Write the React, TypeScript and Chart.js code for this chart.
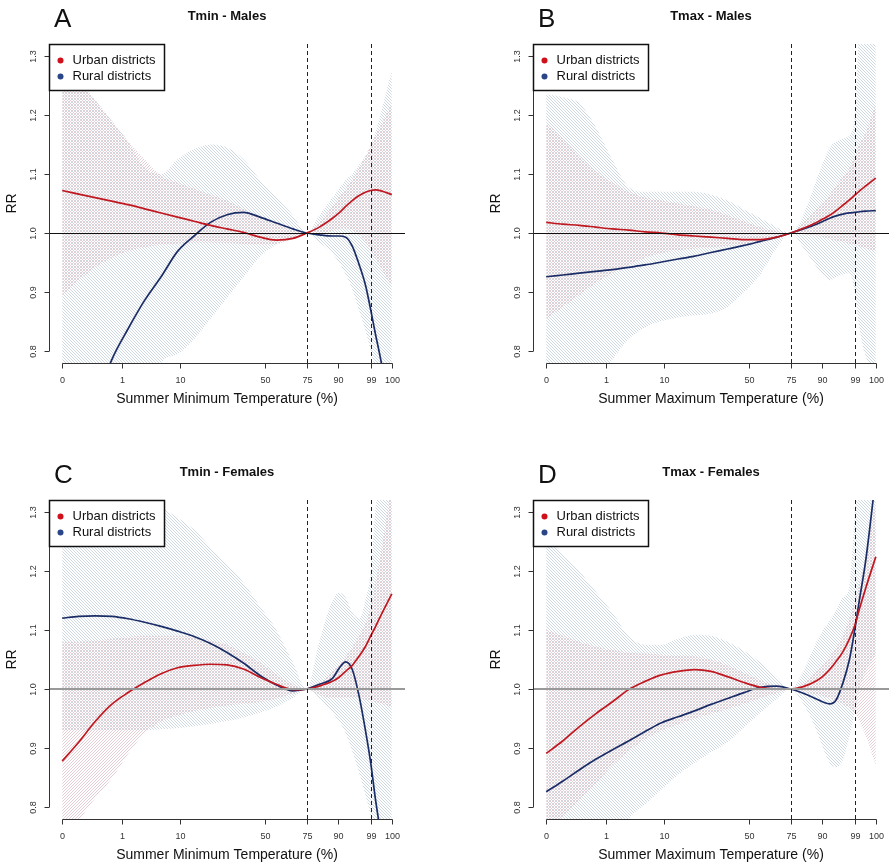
import React, { useEffect, useRef } from "react";
import { Chart, registerables } from "chart.js";
Chart.register(...registerables);

// ---------- data ----------
// x positions on the (temperature) axis, scaled 0..100
const X_GRID = [0, 5, 10, 15, 20, 25, 30, 35, 40, 45, 50, 55, 60, 65, 70, 74.2, 78, 82, 84, 86, 88, 90, 92, 93.6, 95, 97, 100];
const TICK_POS = [0, 18.2, 35.6, 61.4, 74.2, 83.6, 93.6, 100];
const TICK_LABELS = ["0", "1", "10", "50", "75", "90", "99", "100"];
const Y_TICKS = [0.8, 0.9, 1.0, 1.1, 1.2, 1.3];
const Y_TICK_LABELS = ["0.8", "0.9", "1.0", "1.1", "1.2", "1.3"];
const REF_LINES = [74.2, 93.6];
const SERIES_NAMES = ["Urban districts", "Rural districts"];

// Panel A: Tmin - Males
const urbanA = [1.072, 1.066, 1.060, 1.054, 1.048, 1.041, 1.034, 1.027, 1.020, 1.013, 1.007, 1.001, 0.993, 0.988, 0.991, 1.000, 1.010, 1.025, 1.034, 1.045, 1.055, 1.063, 1.069, 1.072, 1.073, 1.071, 1.065];
const ruralA = [0.58, 0.64, 0.71, 0.785, 0.838, 0.886, 0.926, 0.969, 0.995, 1.018, 1.031, 1.035, 1.027, 1.017, 1.007, 1.000, 0.997, 0.995, 0.995, 0.993, 0.978, 0.948, 0.912, 0.870, 0.830, 0.775, 0.660];
const urbanLoA = [0.895, 0.92, 0.942, 0.958, 0.97, 0.976, 0.98, 0.982, 0.984, 0.984, 0.983, 0.981, 0.980, 0.982, 0.990, 1.000, 1.000, 1.004, 1.007, 1.008, 1.005, 0.998, 0.985, 0.972, 0.958, 0.938, 0.910];
const urbanHiA = [1.29, 1.26, 1.225, 1.19, 1.155, 1.125, 1.097, 1.085, 1.075, 1.065, 1.055, 1.042, 1.028, 1.015, 1.005, 1.000, 1.02, 1.045, 1.06, 1.075, 1.09, 1.11, 1.13, 1.15, 1.165, 1.185, 1.22];
const ruralLoA = [0.3, 0.35, 0.4, 0.47, 0.55, 0.68, 0.78, 0.795, 0.82, 0.855, 0.89, 0.925, 0.96, 0.98, 0.99, 1.0, 0.985, 0.965, 0.95, 0.93, 0.905, 0.87, 0.835, 0.8, 0.77, 0.72, 0.6];
const ruralHiA = [1.29, 1.26, 1.225, 1.19, 1.155, 1.11, 1.1, 1.125, 1.142, 1.15, 1.145, 1.125, 1.09, 1.06, 1.03, 1.0, 1.03, 1.06, 1.075, 1.09, 1.1, 1.115, 1.13, 1.146, 1.17, 1.21, 1.276];

// Panel B: Tmax - Males
const urbanB = [1.018, 1.015, 1.013, 1.010, 1.007, 1.005, 1.002, 1.000, 0.997, 0.995, 0.993, 0.991, 0.989, 0.989, 0.993, 1.000, 1.008, 1.018, 1.024, 1.030, 1.038, 1.047, 1.056, 1.064, 1.071, 1.080, 1.093];
const ruralB = [0.926, 0.929, 0.932, 0.935, 0.938, 0.942, 0.946, 0.951, 0.956, 0.961, 0.967, 0.973, 0.979, 0.986, 0.993, 1.000, 1.007, 1.015, 1.020, 1.025, 1.029, 1.032, 1.034, 1.035, 1.036, 1.037, 1.038];
const urbanLoB = [0.855, 0.875, 0.895, 0.915, 0.932, 0.946, 0.958, 0.966, 0.971, 0.974, 0.976, 0.978, 0.980, 0.984, 0.992, 1.000, 0.998, 0.995, 0.993, 0.990, 0.987, 0.985, 0.982, 0.980, 0.977, 0.974, 0.970];
const urbanHiB = [1.185, 1.16, 1.13, 1.105, 1.085, 1.07, 1.06, 1.055, 1.05, 1.045, 1.04, 1.03, 1.02, 1.01, 1.003, 1.0, 1.02, 1.04, 1.05, 1.065, 1.08, 1.095, 1.11, 1.13, 1.15, 1.17, 1.22];
const ruralLoB = [0.63, 0.67, 0.71, 0.75, 0.785, 0.82, 0.84, 0.851, 0.857, 0.861, 0.864, 0.875, 0.9, 0.93, 0.975, 1.0, 0.975, 0.943, 0.93, 0.92, 0.925, 0.93, 0.932, 0.9, 0.84, 0.79, 0.76];
const ruralHiB = [1.235, 1.23, 1.22, 1.18, 1.125, 1.078, 1.07, 1.07, 1.07, 1.07, 1.065, 1.055, 1.04, 1.025, 1.01, 1.0, 1.03, 1.09, 1.12, 1.145, 1.155, 1.16, 1.165, 1.2, 1.35, 1.45, 1.5];

// Panel C: Tmin - Females
const urbanC = [0.878, 0.91, 0.945, 0.974, 0.994, 1.011, 1.026, 1.036, 1.040, 1.042, 1.041, 1.034, 1.020, 1.008, 0.999, 1.000, 1.005, 1.013, 1.020, 1.030, 1.040, 1.055, 1.072, 1.090, 1.105, 1.128, 1.161];
const ruralC = [1.120, 1.123, 1.124, 1.123, 1.119, 1.113, 1.106, 1.098, 1.089, 1.077, 1.062, 1.044, 1.023, 1.007, 0.997, 1.000, 1.008, 1.018, 1.035, 1.046, 1.033, 0.990, 0.930, 0.875, 0.815, 0.740, 0.600];
const urbanLoC = [0.72, 0.775, 0.815, 0.848, 0.89, 0.925, 0.945, 0.955, 0.963, 0.968, 0.972, 0.975, 0.978, 0.984, 0.992, 1.0, 0.99, 0.985, 0.985, 0.985, 0.985, 0.985, 0.982, 0.98, 0.978, 0.975, 0.97];
const urbanHiC = [1.08, 1.08, 1.082, 1.085, 1.088, 1.09, 1.09, 1.09, 1.088, 1.082, 1.075, 1.062, 1.045, 1.025, 1.008, 1.0, 1.01, 1.03, 1.04, 1.055, 1.07, 1.09, 1.11, 1.14, 1.18, 1.24, 1.35];
const ruralLoC = [0.93, 0.93, 0.93, 0.93, 0.93, 0.93, 0.932, 0.934, 0.937, 0.941, 0.946, 0.952, 0.96, 0.97, 0.985, 1.0, 0.985, 0.96, 0.945, 0.925, 0.895, 0.86, 0.82, 0.78, 0.7, 0.6, 0.5];
const ruralHiC = [1.45, 1.43, 1.4, 1.37, 1.35, 1.33, 1.31, 1.29, 1.27, 1.24, 1.212, 1.18, 1.14, 1.1, 1.045, 1.0, 1.08, 1.15, 1.163, 1.155, 1.13, 1.12, 1.15, 1.2, 1.3, 1.4, 1.5];

// Panel D: Tmax - Females
const urbanD = [0.891, 0.912, 0.936, 0.958, 0.978, 0.999, 1.013, 1.024, 1.030, 1.033, 1.030, 1.021, 1.011, 1.003, 1.000, 1.000, 1.004, 1.014, 1.022, 1.033, 1.047, 1.063, 1.085, 1.107, 1.135, 1.172, 1.224];
const ruralD = [0.826, 0.844, 0.863, 0.881, 0.897, 0.912, 0.928, 0.943, 0.953, 0.963, 0.974, 0.984, 0.994, 1.003, 1.005, 1.000, 0.993, 0.983, 0.978, 0.975, 0.982, 1.010, 1.050, 1.100, 1.150, 1.220, 1.360];
const urbanLoD = [0.76, 0.785, 0.81, 0.84, 0.87, 0.895, 0.915, 0.93, 0.94, 0.95, 0.958, 0.966, 0.975, 0.985, 0.993, 1.0, 0.995, 0.99, 0.988, 0.985, 0.98, 0.975, 0.968, 0.96, 0.945, 0.92, 0.87];
const urbanHiD = [1.1, 1.09, 1.08, 1.072, 1.066, 1.062, 1.06, 1.058, 1.056, 1.055, 1.05, 1.04, 1.028, 1.015, 1.005, 1.0, 1.01, 1.03, 1.04, 1.055, 1.07, 1.09, 1.12, 1.15, 1.18, 1.23, 1.32];
const ruralLoD = [0.6, 0.63, 0.66, 0.69, 0.73, 0.78, 0.805, 0.83, 0.855, 0.875, 0.893, 0.91, 0.935, 0.96, 0.983, 1.0, 0.975, 0.93, 0.9, 0.875, 0.868, 0.88, 0.92, 0.96, 1.0, 1.03, 1.06];
const ruralHiD = [1.26, 1.23, 1.2, 1.165, 1.13, 1.09, 1.075, 1.075, 1.085, 1.092, 1.09, 1.08, 1.065, 1.045, 1.02, 1.0, 1.03, 1.08, 1.1, 1.115, 1.135, 1.155, 1.175, 1.3, 1.45, 1.6, 1.8];

// ---------- styles ----------
const FONT = "'Liberation Sans', Arial, sans-serif";
const URBAN_LINE = "#bf1820";
const RURAL_LINE = "#1b2d66";
const URBAN_DOT = "#d0101a";
const RURAL_DOT = "#2b4688";
const URBAN_HATCH = "#e4cdd3";
const RURAL_HATCH = "#cdd8e1";
const CW = 485;
const CH = 456;

type PanelCfg = {
  letter: string; title: string; xTitle: string;
  left: number; top: number; hColor: string; hWidth: number;
  urban: number[]; rural: number[];
  urbanLo: number[]; urbanHi: number[]; ruralLo: number[]; ruralHi: number[];
};

const PANELS: PanelCfg[] = [
  { letter: "A", title: "Tmin - Males", xTitle: "Summer Minimum Temperature (%)", left: 0, top: 0, hColor: "#111", hWidth: 1,
    urban: urbanA, rural: ruralA, urbanLo: urbanLoA, urbanHi: urbanHiA, ruralLo: ruralLoA, ruralHi: ruralHiA },
  { letter: "B", title: "Tmax - Males", xTitle: "Summer Maximum Temperature (%)", left: 484, top: 0, hColor: "#111", hWidth: 1,
    urban: urbanB, rural: ruralB, urbanLo: urbanLoB, urbanHi: urbanHiB, ruralLo: ruralLoB, ruralHi: ruralHiB },
  { letter: "C", title: "Tmin - Females", xTitle: "Summer Minimum Temperature (%)", left: 0, top: 456, hColor: "#999", hWidth: 2,
    urban: urbanC, rural: ruralC, urbanLo: urbanLoC, urbanHi: urbanHiC, ruralLo: ruralLoC, ruralHi: ruralHiC },
  { letter: "D", title: "Tmax - Females", xTitle: "Summer Maximum Temperature (%)", left: 484, top: 456, hColor: "#999", hWidth: 2,
    urban: urbanD, rural: ruralD, urbanLo: urbanLoD, urbanHi: urbanHiD, ruralLo: ruralLoD, ruralHi: ruralHiD },
];

function makeHatch(color: string, back: boolean): CanvasPattern | string {
  const s = 3;
  const c = document.createElement("canvas");
  c.width = s;
  c.height = s;
  const g = c.getContext("2d");
  if (!g) return color;
  g.fillStyle = color;
  for (let i = 0; i < s; i++) {
    const x = back ? i : s - 1 - i;
    g.fillRect(x, i, 1, 1);
  }
  return g.createPattern(c, "repeat") || color;
}

function Panel({ cfg }: { cfg: PanelCfg }) {
  const ref = useRef<HTMLCanvasElement>(null);
  useEffect(() => {
    const canvas = ref.current;
    if (!canvas) return;
    const urbanFill = makeHatch(URBAN_HATCH, false);
    const ruralFill = makeHatch(RURAL_HATCH, true);
    const mk = (vals: number[], extra: any) => ({
      data: X_GRID.map((x, i) => ({ x, y: vals[i] })),
      pointRadius: 0,
      borderWidth: 0,
      cubicInterpolationMode: "monotone",
      clip: 0,
      ...extra,
    });

    const decor = {
      id: "decor",
      afterDatasetsDraw(chart: any) {
        const { ctx, chartArea: ca, scales } = chart;
        const x = scales.x, y = scales.y;
        ctx.save();
        // horizontal reference at RR = 1
        const y1 = cfg.hWidth % 2 === 1 ? Math.round(y.getPixelForValue(1)) + 0.5 : Math.round(y.getPixelForValue(1));
        ctx.beginPath();
        ctx.moveTo(ca.left, y1);
        ctx.lineTo(ca.right, y1);
        ctx.strokeStyle = cfg.hColor;
        ctx.lineWidth = cfg.hWidth;
        ctx.stroke();
        // vertical dashed lines at 75th and 99th percentiles
        ctx.setLineDash([4, 3]);
        ctx.strokeStyle = "#222";
        ctx.lineWidth = 1;
        REF_LINES.forEach((v) => {
          const px = Math.round(x.getPixelForValue(v)) + 0.5;
          ctx.beginPath();
          ctx.moveTo(px, ca.top);
          ctx.lineTo(px, ca.bottom);
          ctx.stroke();
        });
        ctx.restore();
      },
      afterDraw(chart: any) {
        const { ctx, chartArea: ca, scales } = chart;
        const x = scales.x, y = scales.y;
        ctx.save();
        ctx.strokeStyle = "#333";
        ctx.lineWidth = 1;
        ctx.fillStyle = "#333";
        // x axis
        const yb = Math.round(ca.bottom) + 0.5;
        ctx.beginPath();
        ctx.moveTo(Math.round(x.getPixelForValue(0)) + 0.5, yb);
        ctx.lineTo(Math.round(x.getPixelForValue(100)) + 0.5, yb);
        ctx.stroke();
        ctx.font = `9px ${FONT}`;
        ctx.textAlign = "center";
        ctx.textBaseline = "middle";
        TICK_POS.forEach((t, i) => {
          const px = Math.round(x.getPixelForValue(t)) + 0.5;
          ctx.beginPath();
          ctx.moveTo(px, yb);
          ctx.lineTo(px, yb + 5);
          ctx.stroke();
          ctx.fillText(TICK_LABELS[i], px, yb + 17);
        });
        // y axis
        const xl = Math.round(ca.left) + 0.5;
        ctx.beginPath();
        ctx.moveTo(xl, y.getPixelForValue(Y_TICKS[0]));
        ctx.lineTo(xl, y.getPixelForValue(Y_TICKS[Y_TICKS.length - 1]));
        ctx.stroke();
        Y_TICKS.forEach((t, i) => {
          const py = Math.round(y.getPixelForValue(t)) + 0.5;
          ctx.beginPath();
          ctx.moveTo(xl, py);
          ctx.lineTo(xl - 5, py);
          ctx.stroke();
          ctx.save();
          ctx.translate(xl - 16, py);
          ctx.rotate(-Math.PI / 2);
          ctx.fillText(Y_TICK_LABELS[i], 0, 0);
          ctx.restore();
        });
        // axis titles
        ctx.fillStyle = "#111";
        ctx.font = `14px ${FONT}`;
        const cx = (ca.left + ca.right) / 2;
        ctx.fillText(cfg.xTitle, cx, ca.bottom + 36);
        ctx.save();
        ctx.translate(ca.left - 37, (ca.top + ca.bottom) / 2);
        ctx.rotate(-Math.PI / 2);
        ctx.fillText("RR", 0, 0);
        ctx.restore();
        // panel title
        ctx.font = `bold 13px ${FONT}`;
        ctx.fillText(cfg.title, cx, ca.top - 28);
        // panel letter
        ctx.font = `26px ${FONT}`;
        ctx.textAlign = "left";
        ctx.textBaseline = "alphabetic";
        ctx.fillText(cfg.letter, ca.left + 5, ca.top - 17);
        // legend
        const lx = Math.round(ca.left) + 0.5, ly = Math.round(ca.top) + 0.5;
        ctx.fillStyle = "#fff";
        ctx.fillRect(lx, ly, 115, 46);
        ctx.strokeStyle = "#111";
        ctx.lineWidth = 1.5;
        ctx.strokeRect(lx, ly, 115, 46);
        const dots = [URBAN_DOT, RURAL_DOT];
        ctx.font = `13px ${FONT}`;
        ctx.textBaseline = "middle";
        SERIES_NAMES.forEach((name, i) => {
          const yy = ly + 16 + i * 16;
          ctx.fillStyle = dots[i];
          ctx.beginPath();
          ctx.arc(lx + 11, yy, 3, 0, Math.PI * 2);
          ctx.fill();
          ctx.fillStyle = "#111";
          ctx.fillText(name, lx + 23, yy);
        });
        ctx.restore();
      },
    };

    const chart = new Chart(canvas, {
      type: "line",
      data: {
        datasets: [
          mk(cfg.urban, { label: SERIES_NAMES[0], borderColor: URBAN_LINE, borderWidth: 1.7, fill: false, order: 0 }),
          mk(cfg.rural, { label: SERIES_NAMES[1], borderColor: RURAL_LINE, borderWidth: 1.7, fill: false, order: 0 }),
          mk(cfg.urbanHi, { label: "urban hi", fill: "+1", backgroundColor: urbanFill, borderColor: "rgba(0,0,0,0)", order: 1 }),
          mk(cfg.urbanLo, { label: "urban lo", fill: false, borderColor: "rgba(0,0,0,0)", order: 1 }),
          mk(cfg.ruralHi, { label: "rural hi", fill: "+1", backgroundColor: ruralFill, borderColor: "rgba(0,0,0,0)", order: 2 }),
          mk(cfg.ruralLo, { label: "rural lo", fill: false, borderColor: "rgba(0,0,0,0)", order: 2 }),
        ] as any,
      },
      options: {
        responsive: false,
        animation: false,
        devicePixelRatio: 1,
        events: [],
        layout: { padding: { left: 49, top: 44, right: CW - 405, bottom: CH - 363 } },
        plugins: {
          legend: { display: false },
          tooltip: { enabled: false },
          title: { display: false },
        },
        scales: {
          x: { type: "linear", min: -4, max: 104, display: false },
          y: { type: "linear", min: 0.78, max: 1.32, display: false },
        },
      } as any,
      plugins: [decor],
    });
    return () => chart.destroy();
  }, [cfg]);
  return (
    <canvas
      ref={ref}
      width={CW}
      height={CH}
      style={{ position: "absolute", left: cfg.left, top: cfg.top, width: CW, height: CH, display: "block" }}
    />
  );
}

export default function App() {
  return (
    <div style={{ position: "fixed", left: 0, top: 0, width: 896, height: 867, overflow: "hidden", background: "#fff" }}>
      {PANELS.map((p) => (
        <Panel key={p.letter} cfg={p} />
      ))}
    </div>
  );
}
